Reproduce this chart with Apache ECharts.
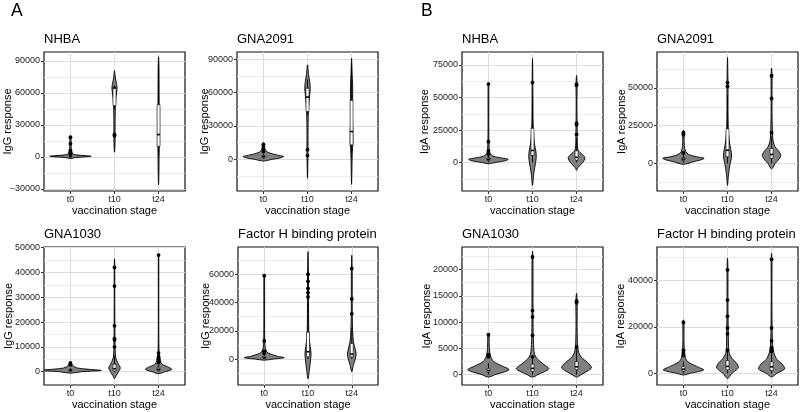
<!DOCTYPE html>
<html><head><meta charset="utf-8">
<script src="https://cdn.jsdelivr.net/npm/echarts@6/dist/echarts.min.js"></script>
<style>html,body{margin:0;padding:0;background:#fff}#chart{width:800px;height:412px}</style>
</head><body><div id="chart"></div>
<script>
// ---------- categories ----------
const stages = ['t0', 't10', 't24'];
const stagePos = [1, 2, 3];
const panelLetters = ['A', 'B'];
const antigenTitles = ['NHBA', 'GNA2091', 'GNA1030', 'Factor H binding protein'];
const xAxisTitle = 'vaccination stage';

// ---------- IgG NHBA ----------  violin outline: [response, half-width]
const igG_NHBA_shape = [
  [[-1500,0],[-500,0.12],[300,0.4],[700,0.47],[1200,0.35],[2000,0.12],[3000,0.05],[5000,0.03],[8000,0.02],[12000,0.015],[18000,0.012],[19000,0]],
  [[4500,0],[10000,0.01],[20000,0.014],[30000,0.013],[45000,0.018],[55000,0.03],[61000,0.05],[65000,0.058],[69000,0.045],[74000,0.02],[81000,0]],
  [[-26000,0],[-15000,0.008],[0,0.012],[15000,0.017],[30000,0.017],[45000,0.014],[60000,0.012],[75000,0.01],[85000,0.008],[94000,0]]
];
const igG_NHBA_box = [[0,200,500,1100,2500],[45000,48100,64700,65600,67000],[1000,10000,21000,49000,88000]];
const igG_NHBA_out = [[18500,12500,6000,4000,3000],[20900,20000],[]];
const igG_NHBA_ticks = [-30000,0,30000,60000,90000];
const igG_NHBA_minor = [-15000,15000,45000,75000];

// ---------- IgG GNA2091 ----------
const igG_GNA2091_shape = [
  [[-1500,0],[0,0.2],[1500,0.4],[2500,0.46],[4000,0.3],[6000,0.12],[8000,0.05],[10000,0.03],[13000,0.015],[15000,0]],
  [[-17000,0],[-5000,0.008],[10000,0.012],[25000,0.012],[40000,0.018],[50000,0.03],[58000,0.05],[64000,0.062],[70000,0.05],[76000,0.025],[85000,0]],
  [[-22500,0],[-10000,0.008],[5000,0.015],[15000,0.03],[25000,0.03],[35000,0.02],[45000,0.015],[55000,0.025],[65000,0.025],[80000,0.01],[91000,0]]
];
const igG_GNA2091_box = [[500,1500,2500,3500,5000],[40000,43000,56000,64000,72000],[1000,13000,25000,53000,85000]];
const igG_GNA2091_out = [[13500,11500,9000,7000],[8700,3500],[]];
const igG_GNA2091_ticks = [0,30000,60000,90000];
const igG_GNA2091_minor = [-15000,15000,45000,75000];

// ---------- IgA NHBA ----------
const igA_NHBA_shape = [
  [[-1000,0],[0,0.15],[1500,0.4],[2500,0.45],[3500,0.3],[5000,0.1],[7000,0.04],[10000,0.02],[16000,0.012],[30000,0.008],[60000,0.008],[61500,0]],
  [[-17500,0],[-8000,0.03],[0,0.07],[4000,0.085],[9000,0.075],[15000,0.04],[22000,0.025],[30000,0.015],[45000,0.01],[62000,0.008],[80000,0]],
  [[-6000,0],[-3900,0.03],[-1500,0.1],[1500,0.17],[3900,0.19],[6500,0.12],[9300,0.04],[13000,0.02],[20000,0.015],[30000,0.012],[45000,0.008],[60000,0.012],[67000,0]]
];
const igA_NHBA_box = [[0,1500,2500,3500,5500],[0,5400,9300,26300,52000],[0,1800,4000,9000,19000]];
const igA_NHBA_out = [[60300,16000,9000,6500],[61500],[60300,59500,30000,29000,21600]];
const igA_NHBA_ticks = [0,25000,50000,75000];
const igA_NHBA_minor = [-12500,12500,37500,62500];

// ---------- IgA GNA2091 ----------
const igA_GNA2091_shape = [
  [[-500,0],[1000,0.2],[2500,0.4],[3500,0.47],[4500,0.3],[6000,0.12],[8000,0.05],[12000,0.02],[18000,0.015],[20000,0.02],[22000,0]],
  [[-14500,0],[-8000,0.02],[0,0.06],[5000,0.095],[10000,0.07],[15000,0.04],[22000,0.02],[35000,0.012],[50000,0.012],[60000,0.008],[70000,0]],
  [[-3500,0],[0,0.08],[3000,0.17],[5500,0.21],[8000,0.17],[11000,0.08],[15000,0.035],[20000,0.022],[30000,0.012],[45000,0.01],[58000,0.012],[63000,0]]
];
const igA_GNA2091_box = [[500,2000,3000,4000,6000],[0,4500,8800,23000,45000],[0,3500,6000,10000,18000]];
const igA_GNA2091_out = [[20500,19500,19000,7000],[53500,51000],[58000,43000,20500]];
const igA_GNA2091_ticks = [0,25000,50000];
const igA_GNA2091_minor = [-12500,12500,37500,62500];

// ---------- IgG GNA1030 ----------
const igG_GNA1030_shape = [
  [[-600,0],[0,0.25],[500,0.7],[1000,0.4],[1500,0.15],[2500,0.05],[3500,0.02],[4000,0]],
  [[-2800,0],[-1500,0.04],[0,0.09],[1500,0.13],[3000,0.09],[4500,0.05],[6000,0.025],[9000,0.015],[13000,0.012],[20000,0.008],[30000,0.006],[42000,0.006],[45500,0]],
  [[-800,0],[0,0.15],[1000,0.3],[2000,0.2],[3000,0.08],[4500,0.04],[6000,0.025],[8000,0.012],[15000,0.006],[30000,0.005],[47000,0.005],[47500,0]]
];
const igG_GNA1030_box = [[100,300,600,900,1500],[0,300,1200,3000,6500],[0,500,1000,1800,3000]];
const igG_GNA1030_out = [[3500,3100,2800],[42000,34500,18500,13300,12800,10000],[47000,7500,6000,5300,4800,4200,3700]];
const igG_GNA1030_ticks = [0,10000,20000,30000,40000,50000];
const igG_GNA1030_minor = [5000,15000,25000,35000,45000];

// ---------- IgG Factor H binding protein ----------
const igG_FHbp_shape = [
  [[-800,0],[0,0.2],[1000,0.46],[2000,0.3],[3500,0.15],[5000,0.06],[8000,0.025],[12000,0.012],[30000,0.008],[59000,0.008],[60000,0]],
  [[-14000,0],[-8000,0.03],[0,0.06],[4000,0.07],[9000,0.05],[15000,0.025],[25000,0.015],[40000,0.012],[55000,0.012],[65000,0.008],[76000,0]],
  [[-9000,0],[-4000,0.04],[0,0.08],[3500,0.1],[7000,0.08],[12000,0.04],[20000,0.02],[30000,0.012],[45000,0.01],[60000,0.01],[73500,0]]
];
const igG_FHbp_box = [[0,500,1000,2000,3500],[0,1600,5200,19000,40000],[0,1500,3500,11000,22000]];
const igG_FHbp_out = [[59000,12800,5500,4200],[60000,55000,50000,47000,44000],[64000,42500,32000]];
const igG_FHbp_ticks = [0,20000,40000,60000];
const igG_FHbp_minor = [-10000,10000,30000,50000,70000];

// ---------- IgA GNA1030 ----------
const igA_GNA1030_shape = [
  [[-450,0],[0,0.15],[950,0.47],[1700,0.3],[2500,0.12],[3500,0.05],[5000,0.02],[7600,0.015],[7900,0]],
  [[-450,0],[0,0.12],[1140,0.37],[2000,0.25],[2900,0.12],[3800,0.05],[5000,0.03],[8000,0.015],[12000,0.012],[22000,0.01],[23500,0]],
  [[-450,0],[0,0.1],[1330,0.34],[2300,0.25],[3400,0.1],[4500,0.04],[6000,0.02],[10000,0.012],[14000,0.015],[15500,0]]
];
const igA_GNA1030_box = [[0,500,800,1200,2200],[0,600,1200,2000,3000],[0,950,1500,2500,5000]];
const igA_GNA1030_out = [[7600,3800,3400],[22400,12200,11000,7500,3400],[14000,13700,5300]];
const igA_GNA1030_ticks = [0,5000,10000,15000,20000];
const igA_GNA1030_minor = [2500,7500,12500,17500,22500];

// ---------- IgA Factor H binding protein ----------
const igA_FHbp_shape = [
  [[-700,0],[0,0.15],[1500,0.46],[3000,0.3],[5000,0.1],[7000,0.04],[10000,0.02],[15000,0.012],[22000,0.012],[23000,0]],
  [[-2200,0],[0,0.1],[1500,0.2],[2600,0.25],[4500,0.2],[6500,0.1],[8600,0.04],[11000,0.025],[15000,0.02],[25000,0.012],[35000,0.01],[45000,0.01],[49500,0]],
  [[-1500,0],[0,0.12],[2000,0.3],[4000,0.24],[6000,0.12],[9000,0.05],[12000,0.025],[20000,0.012],[35000,0.008],[49000,0.01],[51500,0]]
];
const igA_FHbp_box = [[0,1000,1800,3000,5000],[0,1500,3000,5500,9500],[0,1200,2800,5000,9000]];
const igA_FHbp_out = [[21900,9900,8800,7700],[44500,31500,24500,19500,17000,10000],[49000,19500,14000,11000,10500,9500]];
const igA_FHbp_ticks = [0,20000,40000];
const igA_FHbp_minor = [10000,30000,50000];

// ---------- panel layout ----------
const panels = [
  {title: antigenTitles[0], yName:'IgG response', shape:igG_NHBA_shape, box:igG_NHBA_box, out:igG_NHBA_out, ticks:igG_NHBA_ticks, minor:igG_NHBA_minor, range:[-31900,98400], rect:[44,52,141,139], gap:31},
  {title: antigenTitles[1], yName:'IgG response', shape:igG_GNA2091_shape, box:igG_GNA2091_box, out:igG_GNA2091_out, ticks:igG_GNA2091_ticks, minor:igG_GNA2091_minor, range:[-28500,96600], rect:[237,52,141,139], gap:27},
  {title: antigenTitles[0], yName:'IgA response', shape:igA_NHBA_shape, box:igA_NHBA_box, out:igA_NHBA_out, ticks:igA_NHBA_ticks, minor:igA_NHBA_minor, range:[-21900,85000], rect:[462,52,141,139], gap:32},
  {title: antigenTitles[1], yName:'IgA response', shape:igA_GNA2091_shape, box:igA_GNA2091_box, out:igA_GNA2091_out, ticks:igA_GNA2091_ticks, minor:igA_GNA2091_minor, range:[-18100,73700], rect:[657,52,141,139], gap:30},
  {title: antigenTitles[2], yName:'IgG response', shape:igG_GNA1030_shape, box:igG_GNA1030_box, out:igG_GNA1030_out, ticks:igG_GNA1030_ticks, minor:igG_GNA1030_minor, range:[-5360,50270], rect:[44,247,141,138], gap:30},
  {title: antigenTitles[3], yName:'IgG response', shape:igG_FHbp_shape, box:igG_FHbp_box, out:igG_FHbp_out, ticks:igG_FHbp_ticks, minor:igG_FHbp_minor, range:[-18350,79300], rect:[238,247,140,138], gap:27},
  {title: antigenTitles[2], yName:'IgA response', shape:igA_GNA1030_shape, box:igA_GNA1030_box, out:igA_GNA1030_out, ticks:igA_GNA1030_ticks, minor:igA_GNA1030_minor, range:[-1960,24300], rect:[462,247,141,138], gap:29.5},
  {title: antigenTitles[3], yName:'IgA response', shape:igA_FHbp_shape, box:igA_FHbp_box, out:igA_FHbp_out, ticks:igA_FHbp_ticks, minor:igA_FHbp_minor, range:[-5000,54300], rect:[657,247,141,138], gap:30.5}
];

const FONT = '"Liberation Sans", Arial, Helvetica, sans-serif';
const fmtY = v => (v < 0 ? '\u2212' + Math.abs(v) : String(v));

function makeRender(p) {
  return function (params, api) {
    const j = params.dataIndex;
    const x = api.value(0);
    const prof = p.shape[j];
    const right = prof.map(d => api.coord([x + d[1], d[0]]));
    const left = prof.slice(1, -1).reverse().map(d => api.coord([x - d[1], d[0]]));
    const pts = right.concat(left);
    let mn = [Infinity, Infinity], mx = [-Infinity, -Infinity];
    pts.forEach(q => { mn = [Math.min(mn[0], q[0]), Math.min(mn[1], q[1])]; mx = [Math.max(mx[0], q[0]), Math.max(mx[1], q[1])]; });
    const b = p.box[j];
    const bw = 0.034;
    const lo = api.coord([x, b[0]]), hi = api.coord([x, b[4]]);
    const tl = api.coord([x - bw, b[3]]), br = api.coord([x + bw, b[1]]);
    const mL = api.coord([x - bw, b[2]]), mR = api.coord([x + bw, b[2]]);
    const children = [
      {type:'polygon', shape:{points:pts, smooth:0.3, smoothConstraint:[mn, mx]}, style:{fill:'#808080', stroke:'#000', lineWidth:0.9}},
      {type:'line', shape:{x1:lo[0], y1:lo[1], x2:hi[0], y2:hi[1]}, style:{stroke:'#000', lineWidth:0.9}},
      {type:'rect', shape:{x:tl[0], y:tl[1], width:br[0]-tl[0], height:br[1]-tl[1]}, style:{fill:'#fff', stroke:'#000', lineWidth:0.6}},
      {type:'line', shape:{x1:mL[0], y1:mL[1], x2:mR[0], y2:mR[1]}, style:{stroke:'#000', lineWidth:1.6}}
    ];
    p.out[j].forEach(v => {
      const c = api.coord([x, v]);
      children.push({type:'circle', shape:{cx:c[0], cy:c[1], r:1.9}, style:{fill:'#000'}});
    });
    return {type:'group', children};
  };
}

const titles = [
  {text: panelLetters[0], left: 11, top: 2, padding: 0, textStyle:{fontSize:17.5, fontWeight:'normal', color:'#000', fontFamily:FONT}},
  {text: panelLetters[1], left: 421, top: 2, padding: 0, textStyle:{fontSize:17.5, fontWeight:'normal', color:'#000', fontFamily:FONT}}
].concat(panels.map(p => ({
  text: p.title, left: p.rect[0], top: p.rect[1] - 19.5, padding: 0,
  textStyle:{fontSize:13, fontWeight:'normal', color:'#000', fontFamily:FONT}
})));

const grids = panels.map(p => ({
  left:p.rect[0], top:p.rect[1], width:p.rect[2], height:p.rect[3],
  show:true, backgroundColor:'#fff', borderColor:'#111', borderWidth:1.2,
  containLabel:false, outerBoundsMode:'none'
}));

const xAxes = panels.map((p, i) => ({
  gridIndex:i, type:'value', min:0.4, max:3.6,
  name:xAxisTitle, nameLocation:'middle', nameGap:14, nameMoveOverlap:false,
  nameTextStyle:{fontSize:11, color:'#000', fontFamily:FONT},
  axisLine:{show:false, onZero:false},
  axisTick:{show:true, customValues:stagePos, length:3, lineStyle:{color:'#333', width:1}},
  axisLabel:{customValues:stagePos, formatter:v => stages[Math.round(v) - 1], fontSize:9, color:'#222', margin:4, fontFamily:FONT},
  splitLine:{show:true, lineStyle:{color:'#dcdcdc', width:1}}
}));

const yMain = panels.map((p, i) => ({
  gridIndex:i, type:'value', min:p.range[0], max:p.range[1],
  name:p.yName, nameLocation:'middle', nameGap:p.gap, nameMoveOverlap:false,
  nameTextStyle:{fontSize:11, color:'#000', fontFamily:FONT},
  axisLine:{show:false, onZero:false},
  axisTick:{show:true, customValues:p.ticks, length:3, lineStyle:{color:'#333', width:1}},
  axisLabel:{customValues:p.ticks, formatter:fmtY, fontSize:9, color:'#222', margin:4, fontFamily:FONT},
  splitLine:{show:true, lineStyle:{color:'#dcdcdc', width:1}}
}));
const yMinor = panels.map((p, i) => ({
  gridIndex:i, type:'value', min:p.range[0], max:p.range[1],
  axisLine:{show:false, onZero:false},
  axisTick:{show:false, customValues:p.minor},
  axisLabel:{show:false, customValues:p.minor},
  splitLine:{show:true, lineStyle:{color:'#e8e8e8', width:0.8}}
}));

const series = panels.map((p, i) => ({
  type:'custom', coordinateSystem:'cartesian2d', xAxisIndex:i, yAxisIndex:i, clip:true,
  data: stagePos.map((x, j) => [x, p.box[j][2]]),
  renderItem: makeRender(p)
}));

const chart = echarts.init(document.getElementById('chart'), null, {renderer:'canvas'});
chart.setOption({
  animation:false,
  backgroundColor:'#fff',
  textStyle:{fontFamily:FONT},
  title:titles,
  grid:grids,
  xAxis:xAxes,
  yAxis:yMain.concat(yMinor),
  series:series
});
</script></body></html>
